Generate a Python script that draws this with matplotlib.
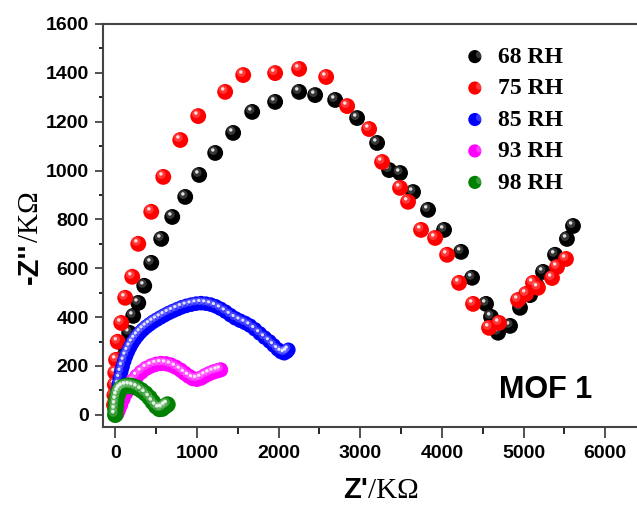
import numpy as np
import matplotlib
matplotlib.use("Agg")
import matplotlib.pyplot as plt
from matplotlib.path import Path
from matplotlib.legend_handler import HandlerTuple
from matplotlib.ticker import MultipleLocator

# Nyquist data, Z' and -Z'' in kOhm
x68 = [10, 25, 45, 70, 95, 122, 171, 220, 282, 355, 441, 563, 698, 857, 1028, 1224, 1444, 1677, 1958,
       2252, 2448, 2693, 2962, 3207, 3354, 3488, 3647, 3831, 4027, 4235, 4370, 4541, 4602, 4688, 4835,
       4957, 5080, 5160, 5239, 5386, 5532, 5606]
y68 = [20, 70, 130, 190, 235, 278, 336, 405, 458, 528, 622, 720, 810, 892, 982, 1072, 1154, 1240, 1281,
       1322, 1309, 1289, 1215, 1113, 1002, 990, 912, 839, 757, 667, 561, 454, 401, 336, 364,
       438, 490, 530, 585, 655, 720, 773]

x75 = [-15, -10, -5, 0, 10, 30, 73, 122, 208, 282, 441, 588, 796, 1016, 1346, 1567, 1958, 2252, 2583,
       2840, 3109, 3268, 3488, 3586, 3745, 3917, 4064, 4211, 4382, 4578, 4700, 4933, 5031, 5116, 5177,
       5349, 5410, 5520]
y75 = [40, 80, 123, 172, 225, 299, 376, 479, 565, 700, 831, 974, 1125, 1223, 1322, 1391, 1399, 1416, 1383,
       1264, 1170, 1035, 929, 872, 757, 724, 655, 540, 454, 356, 376, 470, 495, 540, 520,
       560, 605, 638]

x85 = [0, 5, 12, 20, 30, 42, 56, 72, 90, 110, 132, 156, 182, 210, 240, 272, 306, 342, 380, 420, 462,
       506, 552, 600, 650, 702, 756, 812, 870, 930, 990, 1050, 1110, 1170, 1230, 1290, 1350, 1410,
       1470, 1530, 1590, 1650, 1710, 1770, 1830, 1890, 1940, 1990, 2030, 2070, 2100, 2120]
y85 = [0, 25, 50, 75, 100, 125, 150, 175, 198, 220, 241, 260, 278, 295, 310, 324, 337, 349, 360, 370, 380,
       389, 398, 407, 416, 424, 432, 440, 446, 451, 455, 457, 455, 451, 444, 434, 422, 408,
       395, 385, 376, 365, 350, 333, 316, 300, 284, 268, 257, 252, 258, 266]

x93 = [20, 40, 65, 95, 130, 170, 215, 265, 320, 380, 440, 500, 560, 620, 680, 740, 800, 850, 900, 950,
       1000, 1050, 1100, 1150, 1200, 1250, 1290]
y93 = [5, 20, 40, 65, 90, 115, 138, 158, 175, 190, 200, 207, 210, 209, 204, 195, 183, 170, 158, 148,
       145, 150, 160, 168, 175, 180, 184]

x98 = [0, 3, 8, 15, 25, 40, 60, 90, 130, 175, 220, 270, 320, 370, 420, 460, 500, 540, 575, 610, 640]
y98 = [0, 20, 40, 60, 78, 93, 105, 113, 118, 119, 116, 110, 100, 87, 70, 52, 35, 24, 25, 35, 42]

labels = ["68 RH", "75 RH", "85 RH", "93 RH", "98 RH"]
colors = ["#000000", "#ff0000", "#0000ff", "#ff00ff", "#008000"]
sizes = [130, 130, 110, 120, 140]


def spot(cx, cy, r):
    # circle inside a fixed [-1, 1] box so the marker keeps its offset
    c = Path.circle((cx, cy), r)
    verts = np.vstack([[[-1, -1], [1, 1]], c.vertices])
    codes = [Path.MOVETO, Path.MOVETO] + list(c.codes)
    return Path(verts, codes)


glow = spot(-0.25, 0.3, 0.55)
shine = spot(-0.3, 0.38, 0.22)


def balls(target, xs, ys, s, col):
    a = target.scatter(xs, ys, s=s, c=col, edgecolors="none", zorder=3)
    b = target.scatter(xs, ys, s=s, marker=glow, c="white", alpha=0.22, edgecolors="none", zorder=3)
    c = target.scatter(xs, ys, s=s, marker=shine, c="white", alpha=0.85, edgecolors="none", zorder=3)
    return (a, b, c)


fig = plt.figure(figsize=(6.37, 5.07), dpi=100)
ax = fig.add_axes([103 / 637, 1 - 427 / 507, 543 / 637, 403 / 507])

series = [(x68, y68), (x75, y75), (x85, y85), (x93, y93), (x98, y98)]
handles = []
for (xs, ys), col, s in zip(series, colors, sizes):
    balls(ax, xs, ys, s, col)
    handles.append(balls(ax, [], [], 90, col))

ax.set_xlim(-150, 6500)
ax.set_ylim(-50, 1600)
ax.xaxis.set_major_locator(MultipleLocator(1000))
ax.xaxis.set_minor_locator(MultipleLocator(500))
ax.yaxis.set_major_locator(MultipleLocator(200))
ax.yaxis.set_minor_locator(MultipleLocator(100))
ax.tick_params(axis="x", which="major", direction="out", length=8, width=1.2, pad=5)
ax.tick_params(axis="x", which="minor", direction="out", length=5, width=1.2)
ax.tick_params(axis="y", which="major", direction="out", length=6, width=1.2, pad=4)
ax.tick_params(axis="y", which="minor", direction="out", length=3, width=1.2)
ax.tick_params(colors="#333333", labelcolor="black")
for lab in ax.get_xticklabels() + ax.get_yticklabels():
    lab.set_fontfamily("Liberation Sans")
    lab.set_fontweight("bold")
    lab.set_fontsize(14)
for sp in ax.spines.values():
    sp.set_color("#444444")
    sp.set_linewidth(1.5)
ax.spines["right"].set_visible(False)

leg = fig.legend(handles, labels, handler_map={tuple: HandlerTuple(ndivide=None)},
                 loc="upper left", bbox_to_anchor=(0.722, 0.932), frameon=False,
                 scatterpoints=1, handlelength=0.8, handletextpad=0.3,
                 labelspacing=0.42, borderpad=0,
                 prop={"family": "Liberation Serif", "weight": "bold", "size": 17})

sans = {"family": "Liberation Sans", "weight": "bold", "size": 21}
serif = {"family": "Liberation Serif", "size": 21}

fig.canvas.draw()
r = fig.canvas.get_renderer()
W, H = fig.bbox.width, fig.bbox.height

tx = fig.text(343 / W, 1 - 498 / H, "Z'", fontdict=sans, ha="left", va="baseline")
bb = tx.get_window_extent(r)
fig.text(bb.x1 / W, 1 - 498 / H, "/K\u03a9", fontdict=serif, ha="left", va="baseline")

ty = fig.text(38 / W, 1 - 284 / H, "-Z''", fontdict=sans, rotation=90, rotation_mode="anchor",
              ha="left", va="baseline")
bb = ty.get_window_extent(r)
fig.text(38 / W, bb.y1 / H, "/K\u03a9", fontdict=serif, rotation=90, rotation_mode="anchor",
         ha="left", va="baseline")

fig.text(499 / W, 1 - 398 / H, "MOF 1", family="Liberation Sans", weight="bold", size=22,
         ha="left", va="baseline")

fig.savefig("out.png", dpi=100)
